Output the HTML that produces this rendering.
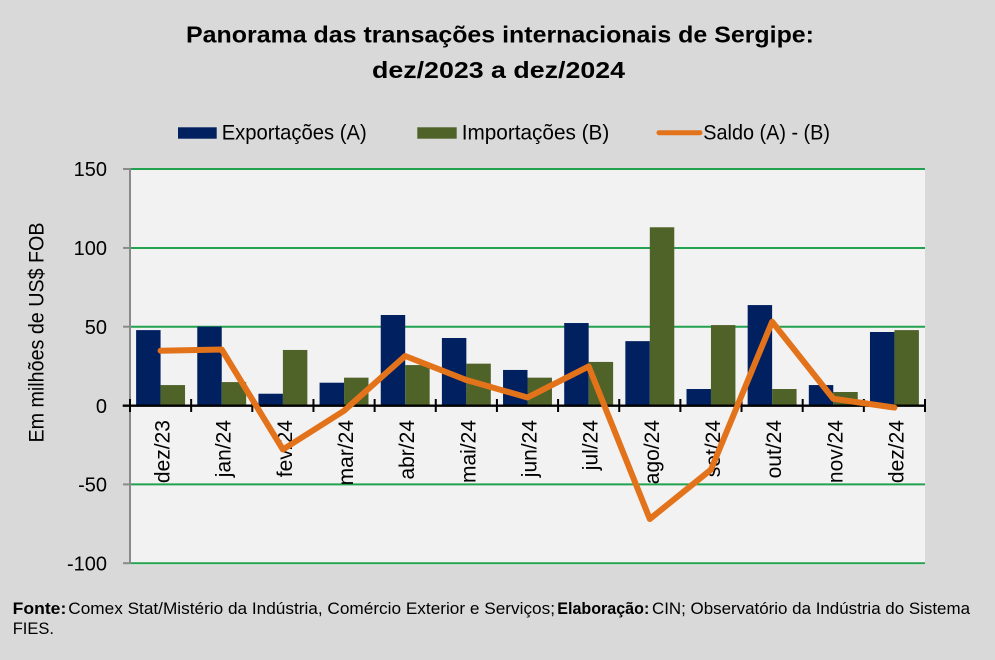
<!DOCTYPE html>
<html><head><meta charset="utf-8"><style>
html,body{margin:0;padding:0;background:#d9d9d9;}
svg{display:block;}
text{font-family:"Liberation Sans",sans-serif;fill:#000;}
</style></head><body>
<svg width="995" height="660" viewBox="0 0 995 660" xmlns="http://www.w3.org/2000/svg">
<rect x="0" y="0" width="995" height="660" fill="#d9d9d9"/>
<!-- Title -->
<text x="186" y="42.5" font-size="23" font-weight="bold" textLength="628" lengthAdjust="spacingAndGlyphs">Panorama  das transações internacionais de Sergipe:</text>
<text x="372" y="77.8" font-size="23" font-weight="bold" textLength="253" lengthAdjust="spacingAndGlyphs">dez/2023 a dez/2024</text>
<!-- Legend -->
<rect x="178" y="127.3" width="38.7" height="11.4" fill="#002060"/>
<text x="221.7" y="139.3" font-size="21" textLength="145" lengthAdjust="spacingAndGlyphs">Exportações (A)</text>
<rect x="417.3" y="127.3" width="39.4" height="11.4" fill="#4f6228"/>
<text x="461.7" y="139.3" font-size="21" textLength="147.6" lengthAdjust="spacingAndGlyphs">Importações (B)</text>
<line x1="659" y1="132.7" x2="700" y2="132.7" stroke="#e3731b" stroke-width="5" stroke-linecap="round"/>
<text x="703.3" y="139.3" font-size="21" textLength="126.7" lengthAdjust="spacingAndGlyphs">Saldo (A) - (B)</text>
<!-- Plot area -->
<rect x="130" y="169" width="795" height="396" fill="#f2f2f2"/>
<!-- gridlines -->
<g stroke="#22a24f" stroke-width="2">
<line x1="130" y1="169" x2="925" y2="169"/>
<line x1="130" y1="247.95" x2="925" y2="247.95"/>
<line x1="130" y1="326.7" x2="925" y2="326.7"/>
<line x1="130" y1="484.4" x2="925" y2="484.4"/>
<line x1="130" y1="563.2" x2="925" y2="563.2"/>
</g>
<!-- y axis -->
<g stroke="#8a8a8a" stroke-width="2">
<line x1="130" y1="168" x2="130" y2="564"/>
<line x1="123" y1="169" x2="130" y2="169"/>
<line x1="123" y1="247.95" x2="130" y2="247.95"/>
<line x1="123" y1="326.7" x2="130" y2="326.7"/>
<line x1="123" y1="484.4" x2="130" y2="484.4"/>
<line x1="123" y1="563.2" x2="130" y2="563.2"/>
</g>
<!-- y tick labels -->
<g font-size="20" text-anchor="end">
<text x="107" y="176.2">150</text>
<text x="107" y="255.1">100</text>
<text x="107" y="333.9">50</text>
<text x="107" y="412.9">0</text>
<text x="107" y="491.6">-50</text>
<text x="107" y="570.4">-100</text>
</g>
<!-- y axis title -->
<text transform="translate(43.3,332.5) rotate(-90)" text-anchor="middle" font-size="21" textLength="220" lengthAdjust="spacingAndGlyphs">Em milhões de US$ FOB</text>
<!-- Export bars -->
<g fill="#002060">
<rect x="136.12" y="330.11" width="24.46" height="75.59"/>
<rect x="197.27" y="326.65" width="24.46" height="79.05"/>
<rect x="258.43" y="393.73" width="24.46" height="11.97"/>
<rect x="319.58" y="382.71" width="24.46" height="22.99"/>
<rect x="380.74" y="315.0" width="24.46" height="90.7"/>
<rect x="441.89" y="337.99" width="24.46" height="67.71"/>
<rect x="503.04" y="369.95" width="24.46" height="35.75"/>
<rect x="564.2" y="323.03" width="24.46" height="82.67"/>
<rect x="625.35" y="341.14" width="24.46" height="64.56"/>
<rect x="686.5" y="389.01" width="24.46" height="16.69"/>
<rect x="747.66" y="305.08" width="24.46" height="100.62"/>
<rect x="808.81" y="385.07" width="24.46" height="20.63"/>
<rect x="869.97" y="332.0" width="24.46" height="73.7"/>
</g>
<!-- Import bars -->
<g fill="#4f6228">
<rect x="160.58" y="385.07" width="24.46" height="20.63"/>
<rect x="221.73" y="382.08" width="24.46" height="23.62"/>
<rect x="282.89" y="349.96" width="24.46" height="55.74"/>
<rect x="344.04" y="377.67" width="24.46" height="28.03"/>
<rect x="405.2" y="365.07" width="24.46" height="40.63"/>
<rect x="466.35" y="363.66" width="24.46" height="42.04"/>
<rect x="527.5" y="377.67" width="24.46" height="28.03"/>
<rect x="588.66" y="361.92" width="24.46" height="43.78"/>
<rect x="649.81" y="227.29" width="24.46" height="178.41"/>
<rect x="710.96" y="325.08" width="24.46" height="80.62"/>
<rect x="772.12" y="389.01" width="24.46" height="16.69"/>
<rect x="833.27" y="392.0" width="24.46" height="13.7"/>
<rect x="894.43" y="330.11" width="24.46" height="75.59"/>
</g>
<!-- zero axis -->
<line x1="122.7" y1="405.7" x2="926" y2="405.7" stroke="#000" stroke-width="2.4"/>
<g stroke="#000" stroke-width="2">
<line x1="130" y1="399" x2="130" y2="412"/>
<line x1="191.15" y1="399" x2="191.15" y2="412"/>
<line x1="252.31" y1="399" x2="252.31" y2="412"/>
<line x1="313.46" y1="399" x2="313.46" y2="412"/>
<line x1="374.62" y1="399" x2="374.62" y2="412"/>
<line x1="435.77" y1="399" x2="435.77" y2="412"/>
<line x1="496.92" y1="399" x2="496.92" y2="412"/>
<line x1="558.08" y1="399" x2="558.08" y2="412"/>
<line x1="619.23" y1="399" x2="619.23" y2="412"/>
<line x1="680.38" y1="399" x2="680.38" y2="412"/>
<line x1="741.54" y1="399" x2="741.54" y2="412"/>
<line x1="802.69" y1="399" x2="802.69" y2="412"/>
<line x1="863.85" y1="399" x2="863.85" y2="412"/>
<line x1="925" y1="399" x2="925" y2="412"/>
</g>
<!-- x labels -->
<g font-size="21" text-anchor="end">
<text transform="translate(169.6,420) rotate(-90)">dez/23</text>
<text transform="translate(230.7,420) rotate(-90)">jan/24</text>
<text transform="translate(291.9,420) rotate(-90)">fev/24</text>
<text transform="translate(353,420) rotate(-90)">mar/24</text>
<text transform="translate(414.2,420) rotate(-90)">abr/24</text>
<text transform="translate(475.3,420) rotate(-90)">mai/24</text>
<text transform="translate(536.5,420) rotate(-90)">jun/24</text>
<text transform="translate(597.7,420) rotate(-90)">jul/24</text>
<text transform="translate(658.8,420) rotate(-90)">ago/24</text>
<text transform="translate(720,420) rotate(-90)">set/24</text>
<text transform="translate(781.1,420) rotate(-90)">out/24</text>
<text transform="translate(842.3,420) rotate(-90)">nov/24</text>
<text transform="translate(903.4,420) rotate(-90)">dez/24</text>
</g>
<!-- Saldo line -->
<polyline fill="none" stroke="#e3731b" stroke-width="6" stroke-linejoin="round" stroke-linecap="round"
points="160.58,350.74 221.73,349.5 282.89,449.5 344.04,410.74 405.2,356 466.35,380.03 527.5,397.5 588.66,366.4 649.81,519 710.96,469.63 772.12,321.77 833.27,398.77 894.43,407.59"/>
<!-- Footer -->
<text x="12.7" y="614" font-size="16.5" font-weight="bold" textLength="53.6" lengthAdjust="spacingAndGlyphs">Fonte:</text>
<text x="68.3" y="614" font-size="16.5" textLength="486.7" lengthAdjust="spacingAndGlyphs">Comex Stat/Mistério da Indústria, Comércio Exterior e Serviços;</text>
<text x="557.3" y="614" font-size="16.5" font-weight="bold" textLength="92" lengthAdjust="spacingAndGlyphs">Elaboração:</text>
<text x="652" y="614" font-size="16.5" textLength="318" lengthAdjust="spacingAndGlyphs">CIN; Observatório da Indústria do Sistema</text>
<text x="12.7" y="634" font-size="16.5">FIES.</text>
</svg>
</body></html>
